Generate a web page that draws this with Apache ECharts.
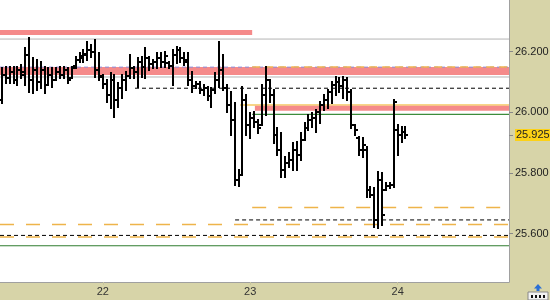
<!DOCTYPE html>
<html><head><meta charset="utf-8">
<script src="https://cdn.jsdelivr.net/npm/echarts@6/dist/echarts.min.js"></script>
<style>html,body{margin:0;padding:0;background:#d7d4a8}#c{width:550px;height:300px}</style>
</head><body><div id="c"></div>
<script>
// ---- data ----
const dayLabels = ['22', '23', '24'];
const dayIndex = [26, 64, 102];
const yTickValues = [25.6, 25.8, 26.0, 26.2];
const lastPrice = 25.925;
const opens = [
26.040,26.123,26.113,26.132,26.106,26.139,26.123,26.189,26.106,26.139,
26.100,26.139,26.090,26.123,26.106,26.132,26.123,26.139,26.113,26.152,
26.172,26.179,26.189,26.205,26.198,26.139,26.116,26.093,26.057,26.106,
26.040,26.080,26.106,26.119,26.146,26.132,26.165,26.149,26.179,26.159,
26.165,26.179,26.165,26.162,26.152,26.189,26.205,26.179,26.172,26.106,
26.086,26.093,26.073,26.080,26.053,26.073,26.106,26.139,26.080,26.024,
25.974,25.777,25.793,26.040,25.958,25.981,25.968,25.958,26.057,26.106,
26.057,25.925,25.875,25.810,25.833,25.843,25.875,25.859,25.908,25.948,
25.974,25.981,26.001,26.024,26.040,26.067,26.090,26.100,26.086,26.106,
26.067,25.958,25.915,25.875,25.875,25.744,25.727,25.645,25.777,25.744,
25.757,25.760,25.941,25.925,25.935];
const highs = [
26.146,26.149,26.149,26.149,26.149,26.156,26.212,26.245,26.179,26.172,
26.165,26.149,26.146,26.146,26.146,26.149,26.149,26.146,26.149,26.182,
26.195,26.205,26.231,26.221,26.238,26.195,26.123,26.106,26.129,26.123,
26.096,26.123,26.132,26.189,26.149,26.179,26.182,26.212,26.182,26.172,
26.195,26.195,26.198,26.165,26.205,26.215,26.212,26.195,26.195,26.132,
26.100,26.100,26.090,26.083,26.080,26.129,26.231,26.189,26.090,26.067,
26.030,25.810,26.083,26.057,25.997,26.001,25.974,26.090,26.149,26.106,
26.073,25.948,25.931,25.852,25.866,25.899,25.902,25.931,25.964,25.991,
25.997,26.007,26.034,26.057,26.073,26.100,26.116,26.113,26.116,26.113,
26.073,25.958,25.918,25.915,25.885,25.754,25.750,25.803,25.800,25.767,
25.767,26.040,25.958,25.951,25.951];
const lows = [
26.030,26.096,26.096,26.096,26.090,26.113,26.090,26.067,26.063,26.073,
26.080,26.063,26.090,26.083,26.106,26.113,26.113,26.096,26.113,26.146,
26.165,26.165,26.172,26.182,26.116,26.106,26.080,26.034,26.014,25.984,
26.017,26.047,26.073,26.113,26.113,26.083,26.116,26.113,26.139,26.146,
26.146,26.149,26.149,26.146,26.090,26.162,26.165,26.156,26.090,26.067,
26.080,26.063,26.057,26.040,26.017,26.063,26.083,26.073,26.001,25.925,
25.760,25.757,25.793,25.925,25.915,25.951,25.931,25.958,25.991,26.034,
25.899,25.859,25.787,25.787,25.819,25.810,25.810,25.843,25.908,25.941,
25.951,25.935,25.964,26.007,26.014,26.030,26.057,26.067,26.047,26.040,
25.948,25.925,25.859,25.852,25.721,25.721,25.622,25.618,25.628,25.744,
25.750,25.754,25.859,25.902,25.915];
const closes = [
26.123,26.113,26.132,26.106,26.139,26.132,26.189,26.106,26.139,26.100,
26.139,26.090,26.123,26.106,26.132,26.123,26.139,26.106,26.146,26.172,
26.185,26.192,26.205,26.198,26.139,26.119,26.093,26.057,26.106,26.040,
26.080,26.106,26.119,26.146,26.132,26.165,26.149,26.179,26.159,26.165,
26.179,26.165,26.185,26.152,26.189,26.205,26.179,26.165,26.106,26.086,
26.093,26.073,26.080,26.053,26.073,26.106,26.139,26.080,26.024,25.974,
25.777,25.793,26.040,25.958,25.981,25.968,25.948,26.057,26.106,26.057,
25.925,25.875,25.810,25.833,25.843,25.875,25.859,25.908,25.948,25.974,
25.981,26.001,26.024,26.040,26.067,26.090,26.100,26.086,26.106,26.067,
25.958,25.941,25.875,25.892,25.744,25.727,25.645,25.777,25.661,25.757,
25.760,26.034,25.925,25.935,25.925];
// horizontal levels: value, start index, end index
const levelValues = [26.263, 26.241, 26.136, 26.1485, 26.149, 26.116, 26.079, 26.0235, 26.013, 25.993, 25.686, 25.645, 25.630, 25.594, 25.589, 25.560];
const levelFrom   = [-0.5,   -0.5,   -0.5,   -0.5,    64.5,   -0.5,   34.3,   61.4,    65.2,   64.5,   64.5,   60.1,   -0.5,   -0.5,   -0.5,   -0.5];
const levelTo     = [64.5,   130.7,  130.7,  130.7,   130.7,  130.7,  130.7,  130.7,   130.7,  130.7,  130.7,  130.7,  130.7,  130.7,  130.7,  130.7];
// ---- styles ----
const levelStyles = [
 {color:'#f58a8a', width:5, type:'solid'},
 {color:'#b4b4b4', width:1, type:'solid'},
 {color:'#f58a8a', width:8, type:'solid'},
 {color:'#8c8cd8', width:1, type:[4,3]},
 {color:'#f0b450', width:1.4, type:[8,5]},
 {color:'#b4b4b4', width:1, type:'solid'},
 {color:'#000000', width:1, type:[4,3]},
 {color:'#f5c860', width:1.4, type:'solid'},
 {color:'#f58a8a', width:5, type:'solid'},
 {color:'#3c8c3c', width:1.2, type:'solid'},
 {color:'#eeb44a', width:1.5, type:[14,12]},
 {color:'#000000', width:1, type:[4,3]},
 {color:'#eeb44a', width:1.5, type:[14,12]},
 {color:'#000000', width:1, type:[4,3]},
 {color:'#eeb44a', width:1.5, type:[14,12]},
 {color:'#2f7d2f', width:1.2, type:'solid'}
];
const ohlc = opens.map((o, i) => [i, o, closes[i], lows[i], highs[i]]);
const series = levelValues.map((v, k) => ({
  type: 'line', silent: true, symbol: 'none', animation: false, z: 1,
  data: [[levelFrom[k], v], [levelTo[k], v]],
  lineStyle: {color: levelStyles[k].color, width: levelStyles[k].width, type: levelStyles[k].type}
}));
series.push({
  type: 'custom', z: 5, animation: false, data: ohlc,
  renderItem: function (params, api) {
    const x = api.value(0);
    const o = api.coord([x, api.value(1)]);
    const c = api.coord([x, api.value(2)]);
    const l = api.coord([x, api.value(3)]);
    const h = api.coord([x, api.value(4)]);
    const px = Math.round(o[0]);
    const st = {stroke: '#000', lineWidth: 2};
    return {type: 'group', children: [
      {type: 'line', shape: {x1: px, y1: Math.round(h[1]) - 1, x2: px, y2: Math.round(l[1]) + 1}, style: st},
      {type: 'line', shape: {x1: px - 3, y1: Math.round(o[1]), x2: px, y2: Math.round(o[1])}, style: st},
      {type: 'line', shape: {x1: px, y1: Math.round(c[1]), x2: px + 3, y2: Math.round(c[1])}, style: st}
    ]};
  }
});
const chart = echarts.init(document.getElementById('c'), null, {renderer: 'canvas'});
chart.setOption({
  animation: false,
  backgroundColor: '#d7d4a8',
  grid: {left: 0, right: 41, top: 0, bottom: 18, show: true, backgroundColor: '#ffffff', borderWidth: 0,
         containLabel: false, outerBoundsMode: 'none'},
  xAxis: {
    type: 'value', min: -0.5, max: 130.7, splitLine: {show: false},
    axisLine: {show: true, onZero: false, lineStyle: {color: '#a0a0a0'}},
    axisTick: {show: true, length: 3, lineStyle: {color: '#c8c6a0'}, customValues: dayIndex},
    axisLabel: {customValues: dayIndex, color: '#333', fontSize: 11, fontFamily: 'Liberation Sans', margin: 4,
      formatter: v => dayLabels[dayIndex.indexOf(Math.round(v))] || ''}
  },
  yAxis: {
    type: 'value', position: 'right', min: 25.4405, max: 26.3697, scale: true, splitLine: {show: false},
    axisLine: {show: true, onZero: false, lineStyle: {color: '#a0a0a0'}},
    axisTick: {show: true, length: 4, lineStyle: {color: '#888'}, customValues: yTickValues.concat([lastPrice])},
    axisLabel: {customValues: yTickValues.concat([lastPrice]), color: '#222', fontSize: 11, fontFamily: 'Liberation Sans', margin: 6,
      formatter: v => Math.abs(v - lastPrice) < 1e-6 ? '{hl|' + v.toFixed(3) + '}' : v.toFixed(3),
      rich: {hl: {backgroundColor: '#fcd116', color: '#222', fontSize: 11, fontFamily: 'Liberation Sans', padding: [1, 1, 0, 1]}}}
  },
  series: series,
  graphic: [
    {type: 'rect', shape: {x: 528, y: 292, width: 20, height: 8}, style: {fill: '#f2f2f2', stroke: '#888', lineWidth: 1}},
    {type: 'rect', shape: {x: 531, y: 295, width: 2, height: 3}, style: {fill: '#111'}},
    {type: 'rect', shape: {x: 535, y: 295, width: 2, height: 3}, style: {fill: '#111'}},
    {type: 'rect', shape: {x: 539, y: 295, width: 2, height: 3}, style: {fill: '#111'}},
    {type: 'rect', shape: {x: 543, y: 295, width: 2, height: 3}, style: {fill: '#111'}},
    {type: 'polygon', shape: {points: [[538, 284], [534, 288.5], [536.5, 288.5], [536.5, 291], [539.5, 291], [539.5, 288.5], [542, 288.5]]}, style: {fill: '#2a6fd6'}}
  ]
});
</script></body></html>
